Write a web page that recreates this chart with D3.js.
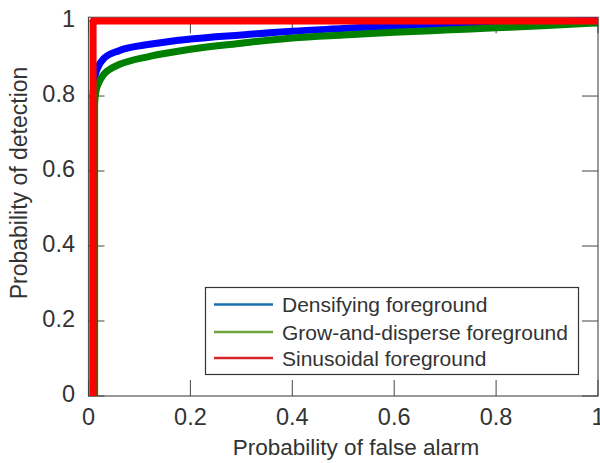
<!DOCTYPE html>
<html>
<head>
<meta charset="utf-8">
<script src="https://cdn.jsdelivr.net/npm/d3@7"></script>
<style>
  body { margin: 0; background: #fff; }
  text { font-family: "Liberation Sans", Arial, sans-serif; fill: #333; }
</style>
</head>
<body>
<div id="chart"></div>
<script>
// ROC curves (false alarm, detection)
const densifyX = [0.009, 0.009, 0.011, 0.014, 0.018, 0.03, 0.06, 0.12, 0.2, 0.3, 0.4, 0.5, 0.6, 0.7, 0.8, 0.9, 1.0];
const densifyY = [0, 0.8, 0.835, 0.86, 0.875, 0.9, 0.921, 0.938, 0.952, 0.963, 0.973, 0.98, 0.987, 0.992, 0.995, 0.998, 1.0];

const growX = [0.012, 0.012, 0.015, 0.02, 0.03, 0.045, 0.06, 0.12, 0.2, 0.3, 0.4, 0.5, 0.6, 0.7, 0.8, 0.9, 1.0];
const growY = [0, 0.78, 0.815, 0.835, 0.858, 0.874, 0.884, 0.906, 0.925, 0.941, 0.955, 0.963, 0.97, 0.976, 0.982, 0.988, 0.995];

const sinX = [0.009, 0.009, 1.0];
const sinY = [0, 1.0, 1.0];

const seriesNames = ["Densifying foreground", "Grow-and-disperse foreground", "Sinusoidal foreground"];
const lineColors = ["#0000ff", "#008000", "#ff0000"];
const legendColors = ["#1a6fb0", "#6ea53a", "#d7262b"];

const xTicks = [0, 0.2, 0.4, 0.6, 0.8, 1];
const yTicks = [0, 0.2, 0.4, 0.6, 0.8, 1];

const W = 600, H = 463;
const mLeft = 88.5, mRight = 598, mTop = 17.3, mBottom = 396;

const svg = d3.select("#chart").append("svg")
  .attr("width", W).attr("height", H);

const x = d3.scaleLinear().domain([0, 1]).range([mLeft, mRight]);
const y = d3.scaleLinear().domain([0, 1.01]).range([mBottom, mTop]);

// frame
svg.append("rect")
  .attr("x", mLeft).attr("y", mTop)
  .attr("width", mRight - mLeft).attr("height", mBottom - mTop)
  .attr("fill", "none").attr("stroke", "#555").attr("stroke-width", 1.2);

// ticks (inward, on all four sides)
const tickLen = 16;
const g = svg.append("g").attr("stroke", "#444").attr("stroke-width", 1);
xTicks.forEach(t => {
  g.append("line").attr("x1", x(t)).attr("x2", x(t)).attr("y1", mBottom).attr("y2", mBottom - tickLen);
  g.append("line").attr("x1", x(t)).attr("x2", x(t)).attr("y1", mTop).attr("y2", mTop + tickLen);
});
yTicks.forEach(t => {
  g.append("line").attr("x1", mLeft).attr("x2", mLeft + tickLen).attr("y1", y(t)).attr("y2", y(t));
  g.append("line").attr("x1", mRight).attr("x2", mRight - tickLen).attr("y1", y(t)).attr("y2", y(t));
});

// tick labels
svg.append("g").selectAll("text").data(xTicks).join("text")
  .attr("x", d => x(d)).attr("y", 425)
  .attr("text-anchor", "middle").attr("font-size", 23.5)
  .text(d => d3.format("")(d));
svg.append("g").selectAll("text").data(yTicks).join("text")
  .attr("x", 75).attr("y", d => y(d) - 2)
  .attr("text-anchor", "end").attr("dominant-baseline", "central").attr("font-size", 23.5)
  .text(d => d3.format("")(d));

// axis titles
svg.append("text")
  .attr("x", 356).attr("y", 455)
  .attr("text-anchor", "middle").attr("font-size", 22.5)
  .text("Probability of false alarm");
svg.append("text")
  .attr("transform", "translate(27,183) rotate(-90)")
  .attr("text-anchor", "middle").attr("font-size", 23)
  .text("Probability of detection");

// curves
const line = d3.line()
  .x(d => x(d[0])).y(d => y(d[1]))
  .curve(d3.curveMonotoneX);
const straight = d3.line()
  .x(d => x(d[0])).y(d => y(d[1]));

const series = [
  d3.zip(densifyX, densifyY),
  d3.zip(growX, growY),
  d3.zip(sinX, sinY)
];

series.forEach((s, i) => {
  svg.append("path")
    .datum(s)
    .attr("d", i == 2 ? straight(s) : line(s))
    .attr("fill", "none")
    .attr("stroke", lineColors[i])
    .attr("stroke-width", 7)
    .attr("stroke-linejoin", "round");
});

// legend
const lg = svg.append("g");
lg.append("rect")
  .attr("x", 205.5).attr("y", 287.5)
  .attr("width", 373).attr("height", 87)
  .attr("fill", "#fff").attr("stroke", "#333").attr("stroke-width", 1.2);

const rowY = [304.5, 332, 358];
seriesNames.forEach((name, i) => {
  lg.append("line")
    .attr("x1", 214).attr("x2", 273)
    .attr("y1", rowY[i]).attr("y2", rowY[i])
    .attr("stroke", legendColors[i]).attr("stroke-width", 2.5);
  lg.append("text")
    .attr("x", 282).attr("y", rowY[i])
    .attr("dominant-baseline", "central").attr("font-size", 21)
    .text(name);
});
</script>
</body>
</html>
